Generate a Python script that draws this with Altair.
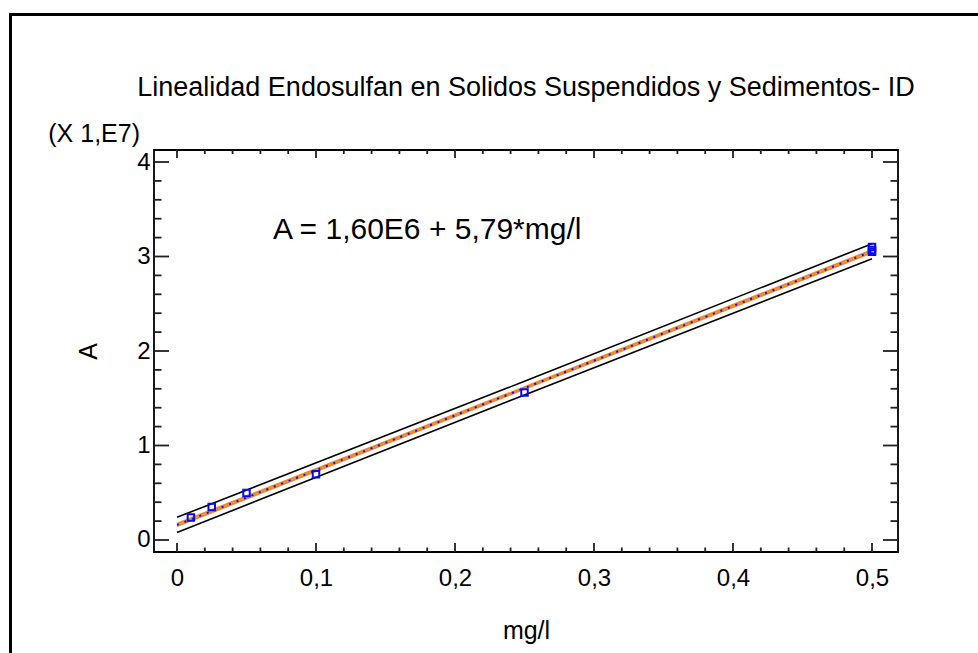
import altair as alt
import pandas as pd

# ---------------- data ----------------
conc = [0.01, 0.025, 0.05, 0.1, 0.25, 0.5, 0.5, 0.5]
area = [2.39e6, 3.50e6, 4.98e6, 6.95e6, 1.561e7, 3.05e7, 3.07e7, 3.10e7]

intercept = 1.60e6
slope = 5.79e7
fit_x = [0.0, 0.5]

limit_x = [0.0, 0.25, 0.5]
pred_half = [0.80e6, 0.72e6, 0.80e6]   # prediction limits (black)
conf_half = [0.12e6, 0.08e6, 0.12e6]   # confidence limits (orange)

x_major = [0.0, 0.1, 0.2, 0.3, 0.4, 0.5]
x_minor = [0.02, 0.04, 0.06, 0.08, 0.12, 0.14, 0.16, 0.18, 0.22, 0.24,
           0.26, 0.28, 0.32, 0.34, 0.36, 0.38, 0.42, 0.44, 0.46, 0.48]
y_major_e7 = [0, 1, 2, 3, 4]
y_minor_e7 = [0.2, 0.4, 0.6, 0.8, 1.2, 1.4, 1.6, 1.8, 2.2, 2.4, 2.6, 2.8,
              3.2, 3.4, 3.6, 3.8]

title_text = "Linealidad Endosulfan en Solidos Suspendidos y Sedimentos- ID"
equation = "A = 1,60E6 + 5,79*mg/l"
multiplier = "(X 1,E7)"

# ---------------- layout / style ----------------
W, H = 744, 402
PAD = {"left": 154, "top": 150, "right": 80, "bottom": 101}
FONT = "Liberation Sans"
EQ_X, EQ_Y = 0.069, 3.284e7

xs = alt.Scale(domain=[-0.01655, 0.5187], nice=False, zero=False)
ys = alt.Scale(domain=[-0.127e7, 4.127e7], nice=False, zero=False)

# ---------------- tables ----------------
pts = pd.DataFrame({"x": conc, "y": area})
fit = pd.DataFrame({"x": fit_x, "y": [intercept + slope * v for v in fit_x]})

rows = []
for xv, ph, ch in zip(limit_x, pred_half, conf_half):
    c = intercept + slope * xv
    rows += [
        {"x": xv, "y": c + ph, "s": "pred_up", "k": "pred"},
        {"x": xv, "y": c - ph, "s": "pred_lo", "k": "pred"},
        {"x": xv, "y": c + ch, "s": "conf_up", "k": "conf"},
        {"x": xv, "y": c - ch, "s": "conf_lo", "k": "conf"},
    ]
lims = pd.DataFrame(rows)

xmaj = pd.DataFrame({"x": x_major})
xmin = pd.DataFrame({"x": x_minor})
ymaj = pd.DataFrame({"y": [v * 1e7 for v in y_major_e7]})
ymin = pd.DataFrame({"y": [v * 1e7 for v in y_minor_e7]})
one = pd.DataFrame({"t": [equation]})

x_axis = alt.Axis(
    orient="bottom",
    values=x_major,
    labelExpr="replace(format(datum.value, '.1~f'), '.', ',')",
    ticks=False, tickSize=0, domain=False, grid=False,
    labelFontSize=24, labelPadding=14, labelFlush=False, labelColor="black",
    title="mg/l", titleFontSize=25, titleFontWeight="normal", titleColor="black",
    titleX=W / 2, titleY=78, titleAlign="center", titleBaseline="middle",
)
y_axis = alt.Axis(
    orient="left",
    values=[v * 1e7 for v in y_major_e7],
    labelExpr="format(datum.value / 1e7, 'd')",
    ticks=False, tickSize=0, domain=False, grid=False,
    labelFontSize=24, labelPadding=4, labelFlush=False, labelColor="black",
    title="A", titleFontSize=25, titleFontWeight="normal", titleColor="black",
    titleAngle=270, titleX=-66, titleY=H / 2, titleAlign="center",
    titleBaseline="middle",
)

X = alt.X("x:Q", scale=xs, axis=x_axis)
Y = alt.Y("y:Q", scale=ys, axis=y_axis)

pred_layer = alt.Chart(lims).transform_filter("datum.k == 'pred'").mark_line(
    color="black", strokeWidth=1.6
).encode(x=X, y=Y, detail="s:N")

conf_layer = alt.Chart(lims).transform_filter("datum.k == 'conf'").mark_line(
    color="#F0882A", strokeWidth=2.2
).encode(x=X, y=Y, detail="s:N")

fit_layer = alt.Chart(fit).mark_line(
    color="#1010E8", strokeWidth=2, strokeDash=[2, 6]
).encode(x=X, y=Y)

pt_layer = alt.Chart(pts).mark_point(
    shape="square", filled=False, color="#0A0AF0", size=42, strokeWidth=2,
    opacity=1,
).encode(x=X, y=Y)

eq_layer = alt.Chart(one).mark_text(
    align="left", baseline="middle", fontSize=30, font=FONT, color="black"
).encode(
    x=alt.XDatum(EQ_X, scale=xs, axis=x_axis),
    y=alt.YDatum(EQ_Y, scale=ys, axis=y_axis),
    text="t:N",
)

tick_col = "#202020"


def xticks(df, y0, y1):
    return alt.Chart(df).mark_rule(color=tick_col, strokeWidth=1.8).encode(
        x=X, y=alt.value(y0), y2=alt.value(y1),
    )


def yticks(df, x0, x1):
    return alt.Chart(df).mark_rule(color=tick_col, strokeWidth=1.8).encode(
        y=Y, x=alt.value(x0), x2=alt.value(x1),
    )


tick_layers = [
    xticks(xmaj, H, H - 9), xticks(xmin, H, H - 4.5),
    xticks(xmaj, 0, 8), xticks(xmin, 0, 4),
    yticks(ymaj, 0, 15), yticks(ymin, 0, 7.5),
    yticks(ymaj, W, W - 15), yticks(ymin, W, W - 7.5),
]

mult_layer = alt.Chart(one).mark_text(
    align="right", baseline="middle", fontSize=25, font=FONT, color="black",
    text=multiplier,
).encode(x=alt.value(-14), y=alt.value(-16))

frame_left = alt.Chart(one).mark_rule(color="black", strokeWidth=3).encode(
    x=alt.value(-143.5), y=alt.value(-135.5), y2=alt.value(H + 120)
)
frame_top = alt.Chart(one).mark_rule(color="black", strokeWidth=3).encode(
    x=alt.value(-145), x2=alt.value(W + 100), y=alt.value(-135.5)
)

chart = alt.layer(
    pred_layer, conf_layer, fit_layer, pt_layer, eq_layer, *tick_layers,
    mult_layer, frame_left, frame_top,
).properties(
    width=W, height=H,
    padding=PAD,
    autosize=alt.AutoSizeParams(type="none"),
    background="white",
    title=alt.TitleParams(
        text=title_text, fontSize=27, font=FONT, fontWeight="normal",
        color="black", anchor="middle", frame="group", offset=-110,
        baseline="alphabetic",
    ),
).configure_view(
    stroke="black", strokeWidth=1.8,
).configure_axis(
    labelFont=FONT, titleFont=FONT,
)

chart.save("out.html", embed_options={"renderer": "svg", "actions": False})
